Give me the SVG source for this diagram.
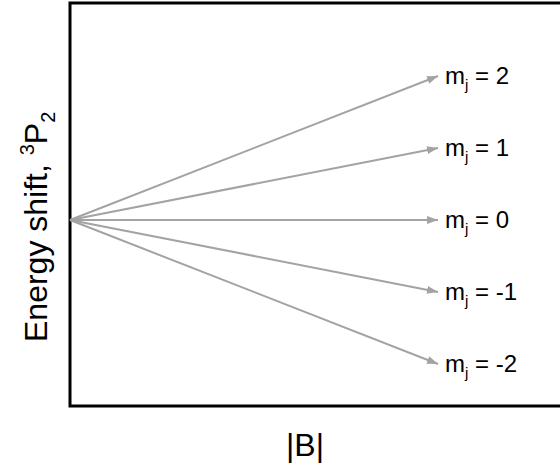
<svg xmlns="http://www.w3.org/2000/svg" width="560" height="468" viewBox="0 0 560 468">
<style>
.lbl{font-family:"Liberation Sans",Arial,sans-serif;font-size:24px;fill:#000}
.sub{font-size:15px}
.ax{font-family:"Liberation Sans",Arial,sans-serif;font-size:32px;fill:#000}
.conn{stroke:#a3a3a3;stroke-width:2;fill:none;marker-end:url(#ah)}
</style>
<defs>
<marker id="ah" viewBox="0 0 11 8" refX="11" refY="4" markerWidth="11" markerHeight="8" markerUnits="userSpaceOnUse" orient="auto">
<path d="M0,0 L11,4 L0,8 Z" fill="#a3a3a3"/>
</marker>
</defs>
<rect x="0" y="0" width="560" height="468" fill="#fff"/>
<g id="frame">
<polyline points="562,3 70,3 70,406 562,406" fill="none" stroke="#000" stroke-width="3"/>
</g>
<g id="connectors">
<line class="conn" x1="70" y1="220" x2="438" y2="76"/>
<line class="conn" x1="70" y1="220" x2="438" y2="148"/>
<line class="conn" x1="70" y1="220" x2="438" y2="220"/>
<line class="conn" x1="70" y1="220" x2="438" y2="292"/>
<line class="conn" x1="70" y1="220" x2="438" y2="364"/>
</g>
<g id="n2"><text class="lbl" x="445" y="84">m<tspan class="sub" dy="6">j</tspan><tspan dy="-6"> = 2</tspan></text></g>
<g id="n1"><text class="lbl" x="445" y="156">m<tspan class="sub" dy="6">j</tspan><tspan dy="-6"> = 1</tspan></text></g>
<g id="n0"><text class="lbl" x="445" y="228">m<tspan class="sub" dy="6">j</tspan><tspan dy="-6"> = 0</tspan></text></g>
<g id="nm1"><text class="lbl" x="445" y="300">m<tspan class="sub" dy="6">j</tspan><tspan dy="-6"> = -1</tspan></text></g>
<g id="nm2"><text class="lbl" x="445" y="372">m<tspan class="sub" dy="6">j</tspan><tspan dy="-6"> = -2</tspan></text></g>
<g id="ylabel"><text class="ax" transform="translate(47,342) rotate(-90)">Energy shift, <tspan font-size="20" dy="-13">3</tspan><tspan dy="13">P</tspan><tspan font-size="20" dy="8">2</tspan></text></g>
<g id="xlabel"><text class="ax" x="305" y="456" text-anchor="middle">|B|</text></g>
</svg>
